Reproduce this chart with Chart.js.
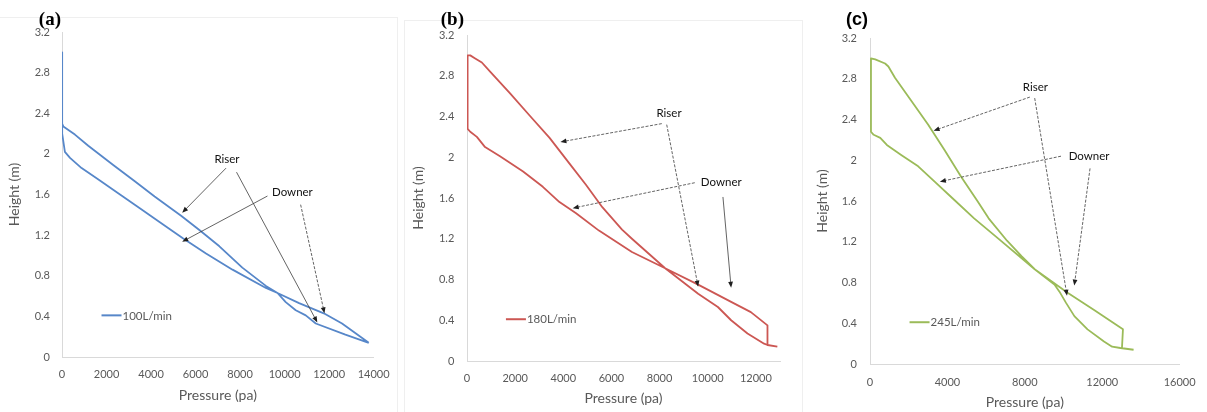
<!DOCTYPE html>
<html>
<head>
<meta charset="utf-8">
<title>Pressure profiles</title>
<script src="https://cdn.jsdelivr.net/npm/chart.js@4.4.0/dist/chart.umd.min.js"></script>
<style>
    body { margin: 0; background: #fff; width: 1207px; height: 412px; overflow: hidden; position: relative; }
    .panel { position: absolute; top: 0; height: 412px; }
    .frame { position: absolute; border: 1px solid #efefef; height: 420px; }
</style>
</head>
<body>
<div class="frame" style="left:-1px; top:17px; width:397px;"></div>
<div class="frame" style="left:404px; top:20px; width:397px;"></div>
<div class="panel" style="left:0; width:400px;"><canvas id="chartA" width="400" height="412"></canvas></div>
<div class="panel" style="left:400px; width:402px;"><canvas id="chartB" width="402" height="412"></canvas></div>
<div class="panel" style="left:802px; width:405px;"><canvas id="chartC" width="405" height="412"></canvas></div>

<script>
// ---- tick labels ----
var heightTicks = [0, 0.4, 0.8, 1.2, 1.6, 2, 2.4, 2.8, 3.2];
var pressureTicksA = [0, 2000, 4000, 6000, 8000, 10000, 12000, 14000];
var pressureTicksB = [0, 2000, 4000, 6000, 8000, 10000, 12000];
var pressureTicksC = [0, 4000, 8000, 12000, 16000];

// ---- (a) 100L/min ----  riser listed bottom -> top, downer top -> bottom
var riserPressureA = [13780, 12730, 11400, 10950, 10500, 10050, 9680, 9160, 8100, 7070, 6170, 5350, 4160, 3270, 2300, 1180, 580, 60, 0, 0];
var riserHeightA   = [0.14, 0.22, 0.33, 0.41, 0.46, 0.54, 0.63, 0.70, 0.88, 1.09, 1.25, 1.39, 1.58, 1.73, 1.89, 2.08, 2.19, 2.27, 2.30, 3.0];
var downerPressureA = [0, 0, 30, 130, 360, 880, 1620, 2670, 3560, 4380, 5430, 6470, 7660, 9160, 9680, 10650, 11760, 12580, 13780];
var downerHeightA   = [3.0, 2.30, 2.20, 2.02, 1.96, 1.86, 1.75, 1.59, 1.455, 1.33, 1.17, 1.02, 0.86, 0.68, 0.63, 0.53, 0.43, 0.33, 0.14];

// ---- (b) 180L/min ----
var riserPressureB = [12890, 12480, 12340, 11650, 10970, 10420, 9600, 8230, 6850, 6440, 5620, 4940, 4250, 3430, 2600, 1780, 960, 617, 340, 135, 25];
var riserHeightB   = [0.14, 0.157, 0.17, 0.27, 0.40, 0.53, 0.66, 0.91, 1.20, 1.29, 1.51, 1.73, 1.94, 2.19, 2.41, 2.63, 2.84, 2.93, 2.97, 3.0, 3.0];
var downerPressureB = [25, 25, 135, 410, 750, 1370, 2330, 3150, 3840, 4530, 5480, 6850, 8230, 9600, 10970, 11790, 12480, 12480];
var downerHeightB   = [3.0, 2.28, 2.25, 2.20, 2.10, 2.01, 1.86, 1.71, 1.56, 1.45, 1.28, 1.07, 0.91, 0.75, 0.58, 0.48, 0.35, 0.157];

// ---- (c) 245L/min ----
var riserPressureC = [13620, 12940, 12510, 12090, 11240, 10560, 10130, 9790, 9530, 8510, 7830, 7080, 6130, 5550, 4700, 3850, 3000, 2150, 1290, 950, 780, 270, 50];
var riserHeightC   = [0.14, 0.157, 0.17, 0.22, 0.34, 0.47, 0.60, 0.71, 0.78, 0.93, 1.06, 1.21, 1.43, 1.60, 1.84, 2.10, 2.35, 2.58, 2.81, 2.92, 2.95, 2.99, 3.0];
var downerPressureC = [50, 50, 190, 530, 870, 1630, 2490, 3340, 4360, 5380, 6570, 8510, 10210, 11580, 13070, 13020];
var downerHeightC   = [3.0, 2.28, 2.25, 2.22, 2.15, 2.05, 1.94, 1.79, 1.61, 1.43, 1.24, 0.93, 0.70, 0.53, 0.34, 0.16];

// ---- annotations (data coordinates) ----
var notesA = [{ text: 'Riser', x: 7410, y: 1.95 }, { text: 'Downer', x: 10350, y: 1.62 }];
var arrowsA = [
    { from: [7370, 1.86], to: [5400, 1.42], dashed: false },
    { from: [7840, 1.82], to: [11470, 0.34], dashed: false },
    { from: [9230, 1.585], to: [5400, 1.135], dashed: false },
    { from: [10720, 1.50], to: [11790, 0.43], dashed: true }
];
var notesB = [{ text: 'Riser', x: 8390, y: 2.43 }, { text: 'Downer', x: 10560, y: 1.75 }];
var arrowsB = [
    { from: [8090, 2.33], to: [3880, 2.15], dashed: true },
    { from: [8295, 2.32], to: [9600, 0.73], dashed: true },
    { from: [9460, 1.75], to: [4390, 1.50], dashed: true },
    { from: [10630, 1.61], to: [10970, 0.72], dashed: false }
];
var notesC = [{ text: 'Riser', x: 8545, y: 2.72 }, { text: 'Downer', x: 11320, y: 2.04 }];
var arrowsC = [
    { from: [8260, 2.62], to: [3285, 2.29], dashed: true },
    { from: [8510, 2.61], to: [10180, 0.67], dashed: true },
    { from: [9870, 2.04], to: [3610, 1.79], dashed: true },
    { from: [11370, 1.92], to: [10555, 0.77], dashed: true }
];

var fontFamily = 'Lato, "Noto Sans", sans-serif';
var axisGrey = '#595959';

function toPoints(xs, ys) {
    return xs.map(function (x, i) { return { x: x, y: ys[i] }; });
}

// ---- overlay: arrows, notes, in-plot legend, panel tag ----
var overlayPlugin = {
    id: 'overlay',
    afterDatasetsDraw: function (chart, args, opts) {
        var ctx = chart.ctx, xs = chart.scales.x, ys = chart.scales.y, ca = chart.chartArea;
        ctx.save();

        opts.arrows.forEach(function (a) {
            var x1 = xs.getPixelForValue(a.from[0]), y1 = ys.getPixelForValue(a.from[1]);
            var x2 = xs.getPixelForValue(a.to[0]), y2 = ys.getPixelForValue(a.to[1]);
            var ang = Math.atan2(y2 - y1, x2 - x1);
            var len = 6, half = 2.4;
            ctx.strokeStyle = '#3c3c3c';
            ctx.lineWidth = 0.8;
            ctx.setLineDash(a.dashed ? [3, 1.5] : []);
            ctx.beginPath();
            ctx.moveTo(x1, y1);
            ctx.lineTo(x2 - len * 0.6 * Math.cos(ang), y2 - len * 0.6 * Math.sin(ang));
            ctx.stroke();
            ctx.setLineDash([]);
            ctx.fillStyle = '#1e1e1e';
            ctx.beginPath();
            ctx.moveTo(x2, y2);
            ctx.lineTo(x2 - len * Math.cos(ang) + half * Math.sin(ang), y2 - len * Math.sin(ang) - half * Math.cos(ang));
            ctx.lineTo(x2 - len * Math.cos(ang) - half * Math.sin(ang), y2 - len * Math.sin(ang) + half * Math.cos(ang));
            ctx.closePath();
            ctx.fill();
        });

        ctx.font = '11.5px ' + fontFamily;
        ctx.fillStyle = '#111';
        ctx.textAlign = 'center';
        ctx.textBaseline = 'middle';
        opts.notes.forEach(function (n) {
            ctx.fillText(n.text, xs.getPixelForValue(n.x), ys.getPixelForValue(n.y));
        });

        // legend entry inside the plot
        var ds = chart.data.datasets[0];
        var lx = xs.getPixelForValue(opts.legendAt[0]), ly = ys.getPixelForValue(opts.legendAt[1]);
        ctx.strokeStyle = ds.borderColor;
        ctx.lineWidth = 2;
        ctx.beginPath();
        ctx.moveTo(lx, ly);
        ctx.lineTo(lx + 20, ly);
        ctx.stroke();
        ctx.font = '11.5px ' + fontFamily;
        ctx.fillStyle = axisGrey;
        ctx.textAlign = 'left';
        ctx.fillText(ds.label, lx + 21, ly + 0.5);

        // panel tag
        ctx.font = opts.tagFont;
        ctx.fillStyle = '#000';
        ctx.textAlign = 'right';
        ctx.fillText(opts.tag, ca.left - opts.tagGap, 20);
        ctx.restore();
    }
};

function makePanel(canvasId, cfg) {
    return new Chart(document.getElementById(canvasId), {
        type: 'scatter',
        data: {
            datasets: [{
                label: cfg.label,
                data: toPoints(cfg.riserP, cfg.riserH).concat(toPoints(cfg.downerP, cfg.downerH)),
                showLine: true,
                borderColor: cfg.color,
                borderWidth: 1.8,
                pointRadius: 0,
                pointHoverRadius: 0,
                tension: 0,
                borderJoinStyle: 'round'
            }]
        },
        plugins: [overlayPlugin],
        options: {
            responsive: false,
            animation: false,
            events: [],
            layout: { padding: { left: 0, top: cfg.top, right: cfg.right, bottom: 0 } },
            plugins: {
                legend: { display: false },
                tooltip: { enabled: false },
                overlay: {
                    arrows: cfg.arrows,
                    notes: cfg.notes,
                    legendAt: cfg.legendAt,
                    tag: cfg.tag,
                    tagFont: cfg.tagFont,
                    tagGap: cfg.tagGap
                }
            },
            scales: {
                x: {
                    type: 'linear',
                    min: 0,
                    max: cfg.xMax,
                    grid: { display: false, drawTicks: false },
                    border: { display: true, color: '#d9d9d9', width: 1 },
                    afterBuildTicks: function (s) { s.ticks = cfg.xTicks.map(function (v) { return { value: v }; }); },
                    afterFit: function (s) { s.height = cfg.xAxisH; },
                    ticks: {
                        color: axisGrey,
                        font: { family: fontFamily, size: 11 },
                        padding: cfg.xTickPad,
                        maxRotation: 0,
                        callback: function (v) { return String(v); }
                    },
                    title: {
                        display: true,
                        text: 'Pressure (pa)',
                        color: axisGrey,
                        font: { family: fontFamily, size: 14 },
                        padding: { top: 0, bottom: cfg.xTitlePad }
                    }
                },
                y: {
                    type: 'linear',
                    min: 0,
                    max: 3.2,
                    grid: { display: false, drawTicks: false },
                    border: { display: true, color: '#d9d9d9', width: 1 },
                    afterBuildTicks: function (s) { s.ticks = heightTicks.map(function (v) { return { value: v }; }); },
                    afterFit: function (s) { s.width = cfg.yAxisW; },
                    ticks: {
                        color: axisGrey,
                        font: { family: fontFamily, size: 11 },
                        padding: cfg.yTickPad,
                        callback: function (v) { return String(v); }
                    },
                    title: {
                        display: true,
                        text: 'Height (m)',
                        color: axisGrey,
                        font: { family: fontFamily, size: 14 },
                        padding: { top: cfg.yTitlePad, bottom: 0 }
                    }
                }
            }
        }
    });
}

makePanel('chartA', {
    label: '100L/min', color: '#5787c9',
    riserP: riserPressureA, riserH: riserHeightA, downerP: downerPressureA, downerH: downerHeightA,
    xTicks: pressureTicksA, xMax: 14000,
    arrows: arrowsA, notes: notesA, legendAt: [1775, 0.41],
    tag: '(a)', tagFont: 'bold 19px "Liberation Serif", serif', tagGap: 1,
    top: 32, right: 25, yAxisW: 62, xAxisH: 55,
    xTickPad: 10.4, xTitlePad: 8.6, yTickPad: 12, yTitlePad: 5.6
});

makePanel('chartB', {
    label: '180L/min', color: '#cc5753',
    riserP: riserPressureB, riserH: riserHeightB, downerP: downerPressureB, downerH: downerHeightB,
    xTicks: pressureTicksB, xMax: 13000,
    arrows: arrowsB, notes: notesB, legendAt: [1617, 0.41],
    tag: '(b)', tagFont: 'bold 19px "Liberation Serif", serif', tagGap: 3,
    top: 35, right: 22, yAxisW: 67, xAxisH: 51,
    xTickPad: 10.4, xTitlePad: 5.6, yTickPad: 12.7, yTitlePad: 9.6
});

makePanel('chartC', {
    label: '245L/min', color: '#9bbb59',
    riserP: riserPressureC, riserH: riserHeightC, downerP: downerPressureC, downerH: downerHeightC,
    xTicks: pressureTicksC, xMax: 16000,
    arrows: arrowsC, notes: notesC, legendAt: [2043, 0.41],
    tag: '(c)', tagFont: 'bold 18px "Liberation Sans", sans-serif', tagGap: 2,
    top: 38, right: 24, yAxisW: 68, xAxisH: 48,
    xTickPad: 11.4, xTitlePad: 1.6, yTickPad: 13, yTitlePad: 11.6
});
</script>
</body>
</html>
